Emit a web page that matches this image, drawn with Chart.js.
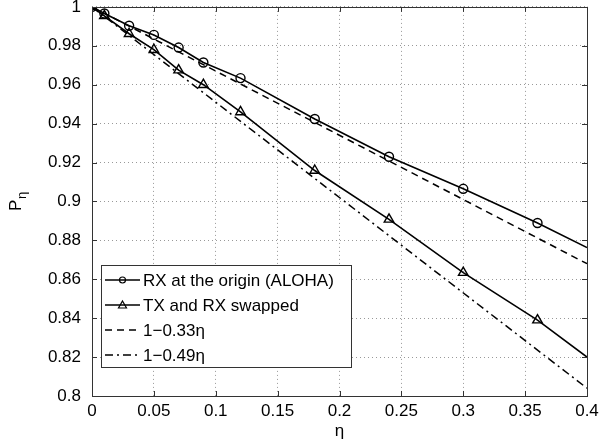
<!DOCTYPE html>
<html>
<head>
<meta charset="utf-8">
<script src="https://cdn.jsdelivr.net/npm/chart.js@4"></script>
<style>
  html, body { margin: 0; padding: 0; background: #fff; }
  #wrap { width: 599px; height: 448px; }
</style>
</head>
<body>
<div id="wrap"><canvas id="chart"></canvas></div>
<script>
// eta values where the simulated points sit (last one is the line end, no marker)
const etas = [0, 0.01, 0.03, 0.05, 0.07, 0.09, 0.12, 0.18, 0.24, 0.30, 0.36, 0.40]
const rxOrigin = [1, 0.9966, 0.9903, 0.9856, 0.9791, 0.9714, 0.9634, 0.9424, 0.9230, 0.9065, 0.8889, 0.8763]
const txSwapped = [1, 0.9954, 0.9862, 0.9780, 0.9675, 0.9600, 0.9460, 0.9159, 0.8908, 0.8634, 0.8390, 0.8200]
// straight reference lines, endpoints
const approxEtas = [0, 0.4]
const approx033 = [1, 0.868]
const approx049 = [1, 0.804]
const labels = ["RX at the origin (ALOHA)", "TX and RX swapped", "1\u22120.33\u03b7", "1\u22120.49\u03b7"]

const FONT = "'Liberation Sans', Arial, Helvetica, sans-serif"

const toPoints = (xs, ys) => xs.map((x, i) => ({ x: x, y: ys[i] }))
const markerRadius = (n, r) => etas.map((_, i) => (i === n - 1 ? 0 : r))

// MATLAB-ish box, inward ticks, y label with subscript
const boxPlugin = {
  id: "box",
  afterDraw(chart) {
    const { ctx, chartArea: a } = chart
    const xs = chart.scales.x
    const ys = chart.scales.y
    ctx.save()
    ctx.strokeStyle = "#333"
    ctx.lineWidth = 1
    ctx.beginPath()
    xs.ticks.forEach(t => {
      const px = Math.round(xs.getPixelForValue(t.value)) + 0.5
      ctx.moveTo(px, a.bottom); ctx.lineTo(px, a.bottom - 5)
      ctx.moveTo(px, a.top); ctx.lineTo(px, a.top + 5)
    })
    ys.ticks.forEach(t => {
      const py = Math.round(ys.getPixelForValue(t.value)) + 0.5
      ctx.moveTo(a.left, py); ctx.lineTo(a.left + 5, py)
      ctx.moveTo(a.right, py); ctx.lineTo(a.right - 5, py)
    })
    ctx.stroke()
    ctx.strokeRect(Math.round(a.left) + 0.5, Math.round(a.top) + 0.5,
      Math.round(a.right - a.left), Math.round(a.bottom - a.top))

    // y axis title P_eta
    ctx.fillStyle = "#000"
    ctx.translate(21, 211)
    ctx.rotate(-Math.PI / 2)
    ctx.textBaseline = "alphabetic"
    ctx.textAlign = "left"
    ctx.font = "17px " + FONT
    ctx.fillText("P", 0, 0)
    ctx.font = "13px " + FONT
    ctx.fillText("\u03b7", 12, 5)
    ctx.restore()
  }
}

// legend drawn inside the axes, lower left
const insideLegend = {
  id: "insideLegend",
  afterDatasetsDraw(chart) {
    const { ctx } = chart
    const x0 = 101, y0 = 265, w = 250, h = 102, row = 25
    ctx.save()
    ctx.fillStyle = "#fff"
    ctx.fillRect(x0, y0, w, h)
    ctx.strokeStyle = "#333"
    ctx.lineWidth = 1
    ctx.strokeRect(x0 + 0.5, y0 + 0.5, w, h)
    chart.data.datasets.forEach((ds, i) => {
      const y = y0 + 15 + i * row
      ctx.strokeStyle = "#000"
      ctx.lineWidth = ds.borderWidth
      ctx.setLineDash(ds.borderDash || [])
      ctx.beginPath()
      ctx.moveTo(x0 + 4, y)
      ctx.lineTo(x0 + 39, y)
      ctx.stroke()
      ctx.setLineDash([])
      ctx.lineWidth = 1.2
      if (ds.pointStyle === "circle") {
        ctx.beginPath()
        ctx.arc(x0 + 21.5, y, 3, 0, Math.PI * 2)
        ctx.stroke()
      } else if (ds.pointStyle === "triangle") {
        ctx.beginPath()
        ctx.moveTo(x0 + 21.5, y - 4)
        ctx.lineTo(x0 + 25.5, y + 3)
        ctx.lineTo(x0 + 17.5, y + 3)
        ctx.closePath()
        ctx.stroke()
      }
      ctx.fillStyle = "#000"
      ctx.font = "17px " + FONT
      ctx.textBaseline = "middle"
      ctx.fillText(ds.label, x0 + 42, y + 1)
    })
    ctx.restore()
  }
}

new Chart(document.getElementById("chart").getContext("2d"), {
  type: "scatter",
  data: {
    datasets: [
      {
        label: labels[0],
        data: toPoints(etas, rxOrigin),
        showLine: true,
        borderColor: "#000",
        borderWidth: 1.6,
        backgroundColor: "rgba(0,0,0,0)",
        pointStyle: "circle",
        pointRadius: markerRadius(etas.length, 4.5),
        pointBorderWidth: 1.4,
        pointBorderColor: "#000",
        pointBackgroundColor: "rgba(0,0,0,0)"
      },
      {
        label: labels[1],
        data: toPoints(etas, txSwapped),
        showLine: true,
        borderColor: "#000",
        borderWidth: 1.6,
        backgroundColor: "rgba(0,0,0,0)",
        pointStyle: "triangle",
        pointRadius: markerRadius(etas.length, 5.5),
        pointBorderWidth: 1.4,
        pointBorderColor: "#000",
        pointBackgroundColor: "rgba(0,0,0,0)"
      },
      {
        label: labels[2],
        data: toPoints(approxEtas, approx033),
        showLine: true,
        borderColor: "#000",
        borderWidth: 1.5,
        borderDash: [7, 5],
        pointRadius: 0
      },
      {
        label: labels[3],
        data: toPoints(approxEtas, approx049),
        showLine: true,
        borderColor: "#000",
        borderWidth: 1.5,
        borderDash: [8, 4, 2, 4],
        pointRadius: 0
      }
    ]
  },
  options: {
    responsive: true,
    maintainAspectRatio: false,
    animation: false,
    layout: { padding: { top: 6, right: 12, left: 0, bottom: 0 } },
    plugins: {
      legend: { display: false },
      tooltip: { enabled: false }
    },
    scales: {
      x: {
        type: "linear",
        min: 0,
        max: 0.4,
        afterFit: (scale) => {
          scale.height = 52
          scale.paddingLeft = 0
          scale.paddingRight = 0
        },
        ticks: {
          stepSize: 0.05,
          padding: 5,
          color: "#000",
          font: { family: FONT, size: 17 },
          callback: (v) => String(parseFloat(v.toFixed(2)))
        },
        grid: {
          color: "#999",
          lineWidth: 1,
          drawTicks: false
        },
        border: { display: false, dash: [1, 3] },
        title: {
          display: true,
          text: "\u03b7",
          color: "#000",
          font: { family: FONT, size: 17 },
          padding: { top: 0, bottom: 6 }
        }
      },
      y: {
        type: "linear",
        min: 0.8,
        max: 1,
        afterFit: (scale) => {
          scale.width = 92
          scale.paddingTop = 0
          scale.paddingBottom = 0
        },
        ticks: {
          stepSize: 0.02,
          padding: 11,
          color: "#000",
          font: { family: FONT, size: 17 },
          callback: (v) => String(parseFloat(v.toFixed(2)))
        },
        grid: {
          color: "#999",
          lineWidth: 1,
          drawTicks: false
        },
        border: { display: false, dash: [1, 3] }
      }
    }
  },
  plugins: [boxPlugin, insideLegend]
})
</script>
</body>
</html>
